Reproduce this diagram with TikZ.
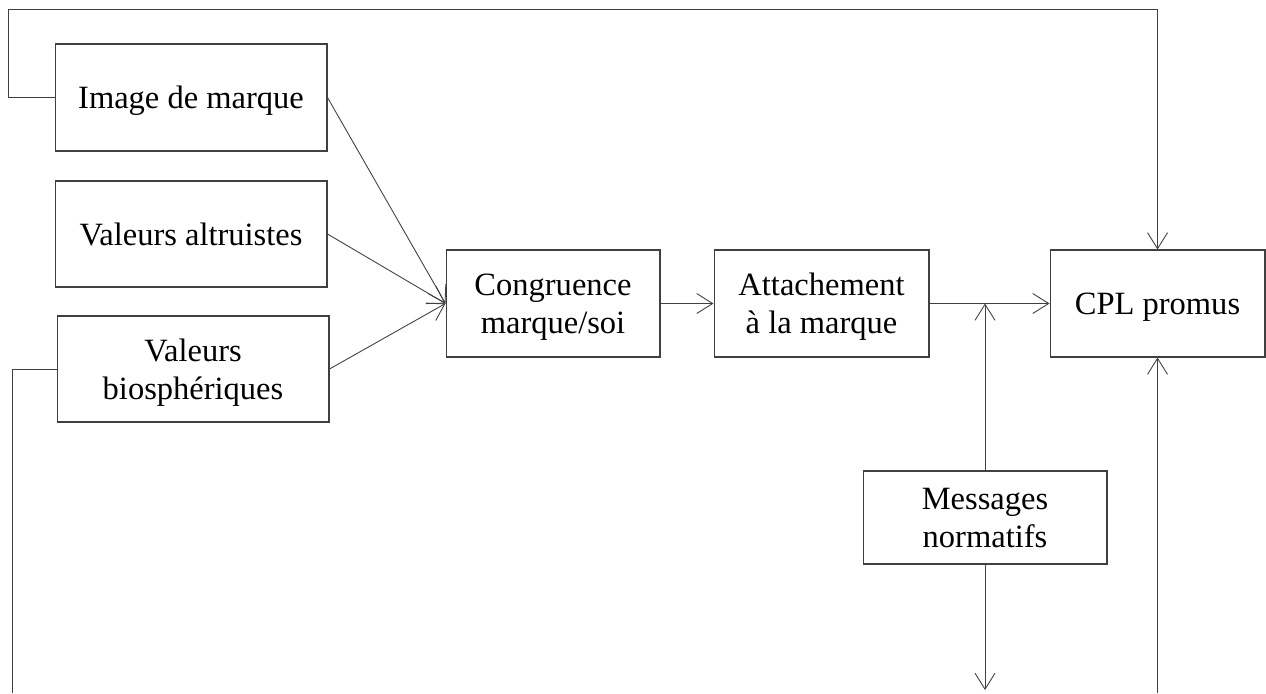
\documentclass[tikz,border=0pt]{standalone}
\usepackage{fontspec}
\setmainfont{Liberation Serif}
\usetikzlibrary{arrows.meta}

\begin{document}
\begin{tikzpicture}[x=0.02cm,y=-0.02cm,
  boite/.style={draw=black!75,line width=0.6pt,align=center,inner sep=0pt,
    text depth=0pt,font=\fontsize{18.5}{21.5}\selectfont},
  lien/.style={draw=black!75,line width=0.5pt},
  fleche/.style={lien,-{Straight Barb[length=0.32cm,width=0.4cm]}}]
\useasboundingbox (0,0) rectangle (1266,693);
% boites
\node[boite,minimum width=5.44cm,minimum height=2.14cm] (img) at (191,97.5) {Image de marque};
\node[boite,minimum width=5.44cm,minimum height=2.12cm] (alt) at (191,234) {Valeurs altruistes};
\node[boite,minimum width=5.44cm,minimum height=2.12cm] (bio) at (193,369) {Valeurs\\biosphériques};
\node[boite,minimum width=4.28cm,minimum height=2.14cm] (cong) at (553,303.5) {Congruence\\marque/soi};
\node[boite,minimum width=4.3cm,minimum height=2.14cm] (att) at (821.5,303.5) {Attachement\\à la marque};
\node[boite,minimum width=4.3cm,minimum height=2.14cm] (cpl) at (1157.5,303.5) {CPL promus};
\node[boite,minimum width=4.88cm,minimum height=1.86cm] (msg) at (985,517.5) {Messages\\normatifs};
% points libres
\coordinate (haut) at (8,9);
\coordinate (basG) at (12,693);
\coordinate (basD) at (1157.5,693);
\coordinate (basM) at (985,690);
\coordinate (jonc) at (msg.north |- att.east);
% liens
\foreach \n in {img,alt,bio} { \draw[fleche] (\n.east) -- (cong.west); }
\draw[fleche] (cong) -- (att);
\draw[fleche] (att) -- (cpl);
\draw[fleche] (img.west) -| (haut) -| (cpl.north);
\draw[lien] (bio.west) -| (basG);
\draw[fleche] (basD) -- (cpl.south);
\draw[fleche] (msg.north) -- (jonc);
\draw[fleche] (msg.south) -- (basM);
\end{tikzpicture}
\end{document}
